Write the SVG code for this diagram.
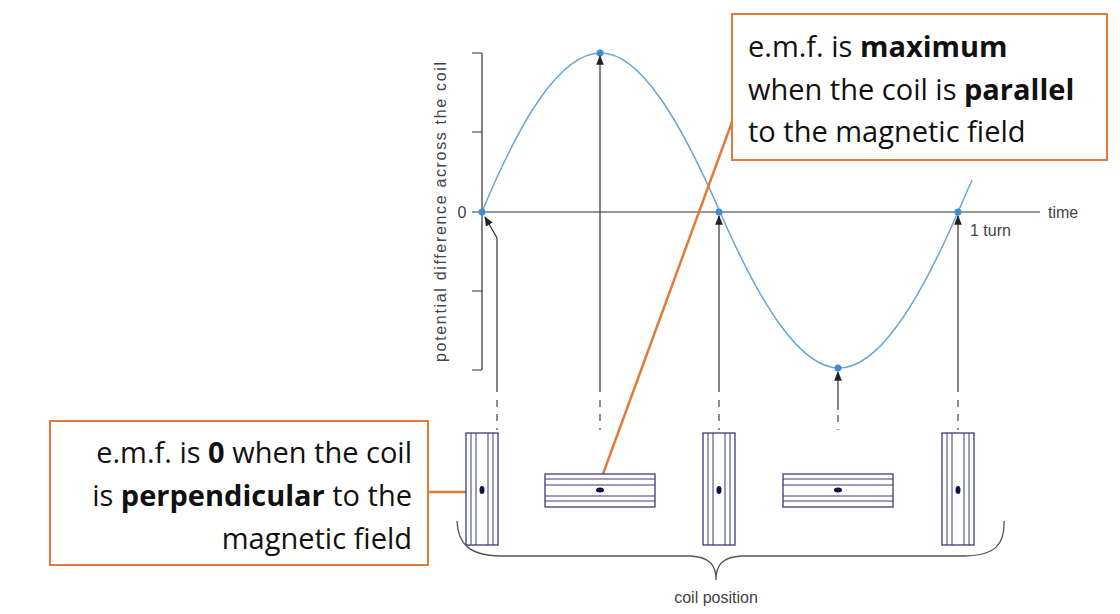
<svg xmlns="http://www.w3.org/2000/svg" width="1120" height="614" viewBox="0 0 1120 614">
<style>
.ax{stroke:#333;stroke-width:1.2;fill:none}
.ar{stroke:#333;stroke-width:1.2;fill:none;marker-end:url(#ah)}
.ds{stroke:#444;stroke-width:1.2;stroke-dasharray:7,7;fill:none}
.coil{fill:#fff;stroke:#3a3a7a;stroke-width:1.3}
.cl{stroke:#3a3a7a;stroke-width:1}
.dot{fill:#10104a}
.pt{fill:#3a8fd0}
.lab{font-family:"Liberation Sans",Arial,sans-serif;font-size:16px;fill:#444}
.big{font-family:"Open Sans","Noto Sans",sans-serif;font-size:29px;fill:#111}
.box{fill:#fff;stroke:#E07B39;stroke-width:2}
.or{stroke:#E07B39;stroke-width:2.5;fill:none}
</style>
<defs>
<marker id="ah" viewBox="0 0 10 10" refX="9" refY="5" markerWidth="8" markerHeight="8" orient="auto"><path d="M0,1 L10,5 L0,9 z" fill="#222"/></marker>
<g id="vc"><rect class="coil" x="-16" y="0" width="32" height="112"/><path class="cl" d="M-11,0V112M-6,0V112M6,0V112M11,0V112"/><ellipse class="dot" cx="0" cy="57" rx="2.5" ry="4"/></g>
<g id="hc"><rect class="coil" x="-55" y="0" width="110" height="33"/><path class="cl" d="M-55,5H55M-55,11H55M-55,22H55M-55,27H55"/><ellipse class="dot" cx="0" cy="16" rx="4" ry="2.5"/></g>
</defs>
<rect width="1120" height="614" fill="#fff"/>
<g id="axes">
<path class="ax" d="M482,53V370M472,53H482M472,132H482M472,291H482M472,370H482M472,212H1040"/>
<text class="lab" x="462" y="218" text-anchor="middle">0</text>
<text class="lab" x="1048" y="218">time</text>
<text class="lab" x="970" y="236">1 turn</text>
<text class="lab" transform="translate(446,212) rotate(-90)" text-anchor="middle" font-size="17" textLength="300" lengthAdjust="spacing">potential difference across the coil</text>
</g>
<path id="wave" fill="none" stroke="#6aa6d6" stroke-width="1.5" d="M482,212 C520,120 560,53 601,53 C640,53 680,120 720,212 C760,304 800,368 839,368 C878,368 918,304 958,212 L972,180"/>
<g id="points"><circle class="pt" cx="482" cy="212" r="3.5"/><circle class="pt" cx="600" cy="53" r="3.5"/><circle class="pt" cx="719" cy="212" r="3.5"/><circle class="pt" cx="838" cy="368" r="3.5"/><circle class="pt" cx="958" cy="212" r="3.5"/></g>
<g id="connectors">
<path class="ar" d="M497,392V238L485,217"/>
<path class="ar" d="M600,392V56"/>
<path class="ar" d="M719,392V216"/>
<path class="ar" d="M838,410V372"/>
<path class="ar" d="M958,392V216"/>
<path class="ds" d="M497,400V430M600,400V430M719,400V430M838,415V430M958,400V430"/>
<path class="or" d="M428,492H466"/>
<path class="or" d="M603,474L740,100"/>
</g>
<g id="coils">
<use href="#vc" x="482" y="433"/>
<use href="#hc" x="600" y="474"/>
<use href="#vc" x="719" y="433"/>
<use href="#hc" x="838" y="474"/>
<use href="#vc" x="958" y="433"/>
</g>
<g id="brace">
<path fill="none" stroke="#555" stroke-width="1.3" d="M457,521 C458,545 470,555 500,556 L690,556 C710,557 716,565 716,580 C716,565 722,557 742,556 L965,556 C995,555 1005,545 1004,521"/>
<text class="lab" x="716" y="603" text-anchor="middle" font-size="17">coil position</text>
</g>
<g id="box-zero">
<rect class="box" x="50" y="421" width="378" height="144"/>
<text class="big" x="412" y="463" text-anchor="end">e.m.f. is <tspan font-weight="bold">0</tspan> when the coil</text>
<text class="big" x="412" y="506" text-anchor="end">is <tspan font-weight="bold">perpendicular</tspan> to the</text>
<text class="big" x="412" y="549" text-anchor="end">magnetic field</text>
</g>
<g id="box-max">
<rect class="box" x="732" y="14" width="375" height="146"/>
<text class="big" x="748" y="57">e.m.f. is <tspan font-weight="bold">maximum</tspan></text>
<text class="big" x="748" y="100">when the coil is <tspan font-weight="bold">parallel</tspan></text>
<text class="big" x="748" y="142">to the magnetic field</text>
</g>
</svg>
